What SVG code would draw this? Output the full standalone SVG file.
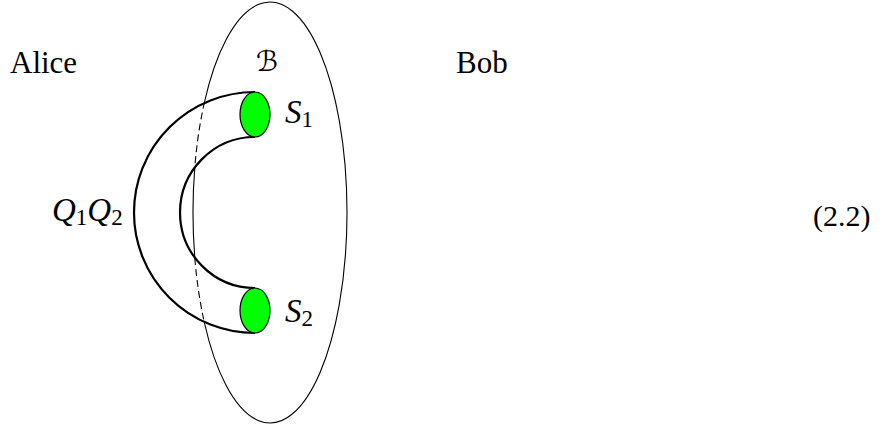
<svg xmlns="http://www.w3.org/2000/svg" width="889" height="427" viewBox="0 0 889 427">
<style>
.thin{fill:none;stroke:#000;stroke-width:1.1}
.dash{fill:none;stroke:#000;stroke-width:1.1;stroke-dasharray:7 4}
.tube{fill:none;stroke:#000;stroke-width:2.2}
.disk{fill:#00ff00;stroke:#000;stroke-width:1.2}
</style>
<rect width="889" height="427" fill="#fff"/>
<text x="10" y="73" font-size="31" font-family="'Liberation Serif'" id="alice">Alice</text>
<text x="456" y="73" font-size="31" font-family="'Liberation Serif'" id="bob">Bob</text>
<text x="813" y="226" font-size="30" font-family="'Liberation Serif'" id="eqnum">(2.2)</text>
<g id="region-B">
<path class="thin" d="M204.47,102 A77,210.5 0 1 1 204.47,323"/>
<path class="thin" d="M194.82,167 A77,210.5 0 0 0 194.82,258"/>
<path class="dash" d="M204.47,102 A77,210.5 0 0 0 194.82,167"/>
<path class="dash" d="M194.82,258 A77,210.5 0 0 0 204.47,323"/>
<text x="256" y="71" font-size="28" font-style="italic" font-family="'DejaVu Sans'">&#x212C;</text>
</g>
<g id="connectors">
<path class="tube" d="M255,92 A121,120.5 0 0 0 255,333"/>
<path class="tube" d="M255,137 A75,75.5 0 0 0 255,288"/>
</g>
<g id="Q1Q2"><text x="52" y="221" font-size="33" font-family="'Liberation Serif'"><tspan font-style="italic">Q</tspan><tspan font-size="23" dy="4">1</tspan><tspan font-style="italic" dy="-4">Q</tspan><tspan font-size="23" dy="4">2</tspan></text></g>
<g id="S1">
<ellipse class="disk" cx="255" cy="114.5" rx="15" ry="22.5"/>
<text x="285" y="123" font-size="33" font-family="'Liberation Serif'"><tspan font-style="italic">S</tspan><tspan font-size="23" dy="4">1</tspan></text>
</g>
<g id="S2">
<ellipse class="disk" cx="255" cy="310.5" rx="15" ry="22.5"/>
<text x="285" y="322" font-size="33" font-family="'Liberation Serif'"><tspan font-style="italic">S</tspan><tspan font-size="23" dy="4">2</tspan></text>
</g>
</svg>
